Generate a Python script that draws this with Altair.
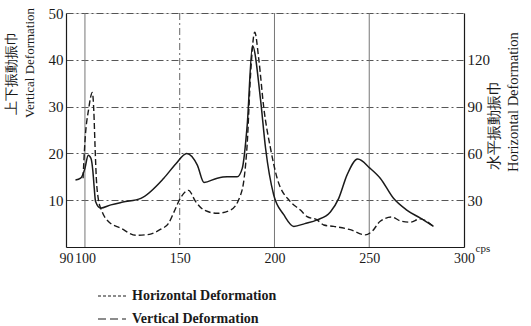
import altair as alt
import pandas as pd

# Vertical deformation (dashed, left axis)
vert_cps = [99, 100, 102, 103.9, 104.7, 105.3, 106, 107, 109, 112, 119, 127, 134, 140, 144,
            147, 150.3, 154.6, 158.4, 162.8, 169.8, 176.8, 182, 184, 185.6, 187.4, 189.6,
            191.7, 194.4, 197.9, 201.4, 208.4, 213.7, 217.2, 222.5, 226, 231.2, 240, 247.9,
            251.4, 255.8, 261.9, 266.3, 271.6, 276.8, 283.5]
vert_val = [14.7, 22.5, 29.6, 33.0, 28.9, 21.8, 14.7, 10.4, 7.6, 5.6, 4.0, 2.5, 2.7, 3.8, 5.0,
            7.5, 10.4, 12.1, 9.7, 7.9, 7.2, 7.9, 11.0, 14.7, 22.0, 37.0, 45.9,
            40.2, 29.6, 21.1, 14.7, 9.7, 7.9, 6.5, 5.8, 4.7, 4.4, 3.7, 2.6,
            3.3, 5.5, 6.4, 5.6, 5.3, 6.0, 4.5]

# Horizontal deformation (solid, right axis)
horiz_cps = [95, 97.7, 100, 101.7, 103.2, 104.2, 104.9, 105.6, 108.2, 113.7, 120, 129.5, 141.6,
             148, 153.7, 159.3, 162.8, 169.8, 175, 180.3, 183, 185.6, 188.4, 192.6, 195.3,
             199.6, 204.9, 210.2, 216, 222.5, 229.5, 233.9, 238.3, 243.9, 250.5, 255.8, 262.8,
             269.8, 276.8, 283.9]
horiz_val = [42.9, 44.1, 50.4, 58.8, 56.7, 48.3, 37.8, 29.1, 24.9, 27.0, 28.8, 31.2, 44.1,
             53.4, 60.0, 52.5, 41.4, 44.1, 45.0, 45.0, 50.4, 78.0, 129.0, 95.0, 63.3,
             33.3, 20.7, 13.2, 15.0, 17.4, 22.5, 31.2, 46.2, 56.4, 50.4, 44.1, 31.2,
             23.7, 18.6, 13.2]

x_ticks = [90, 100, 150, 200, 250, 300]
x_grid_solid = [100, 200, 250]
x_grid_dashdot = [150]
left_ticks = [10, 20, 30, 40, 50]
right_ticks = [30, 60, 90, 120]
legend_labels = ["Horizontal Deformation", "Vertical Deformation"]
left_title = ["上下振動振巾", "Vertical Deformation"]
right_title = ["水平振動振巾", "Horizontal Deformation"]

vdf = pd.DataFrame({"cps": vert_cps, "v": vert_val})
hdf = pd.DataFrame({"cps": horiz_cps, "h": horiz_val})

W, H = 398, 234
LABEL_FONT = "Liberation Sans Narrow"
TITLE_FONT = "Liberation Serif"
INK = "#1a1a1a"

xscale = alt.Scale(domain=[90, 300], nice=False, zero=False)
xaxis = alt.Axis(values=x_ticks, grid=False, tickSize=0, labelFont=LABEL_FONT, labelFontSize=14,
                 labelColor=INK, labelPadding=4, labelOverlap=False, labelFlush=False,
                 domainColor=INK, domainWidth=1.2,
                 title="cps", titleFont=TITLE_FONT, titleFontSize=11, titleFontWeight="normal",
                 titleColor=INK, titleX=409, titleY=-5, titleAlign="left", titleBaseline="top")

vgrid1 = alt.Chart(pd.DataFrame({"cps": x_grid_solid})).mark_rule(
    color="#777", strokeWidth=1.0).encode(x=alt.X("cps:Q", scale=xscale, axis=xaxis))
vgrid2 = alt.Chart(pd.DataFrame({"cps": x_grid_dashdot})).mark_rule(
    color="#555", strokeWidth=0.9, strokeDash=[7, 3, 2, 3]).encode(
    x=alt.X("cps:Q", scale=xscale, axis=xaxis))

vline = alt.Chart(vdf).mark_line(color=INK, strokeWidth=1.4, strokeDash=[6, 3],
                                 interpolate="monotone").encode(
    x=alt.X("cps:Q", scale=xscale, axis=xaxis),
    y=alt.Y("v:Q", scale=alt.Scale(domain=[0, 50], nice=False),
            axis=alt.Axis(values=left_ticks, orient="left", grid=True, gridDash=[7, 3, 2, 3],
                          gridColor="#444", gridWidth=0.9, tickSize=0,
                          labelFont=LABEL_FONT, labelFontSize=15, labelColor=INK, labelPadding=3,
                          domainColor=INK, domainWidth=1.2, title=None)),
)

hline = alt.Chart(hdf).mark_line(color=INK, strokeWidth=1.5, interpolate="monotone").encode(
    x=alt.X("cps:Q", scale=xscale, axis=xaxis),
    y=alt.Y("h:Q", scale=alt.Scale(domain=[0, 150], nice=False),
            axis=alt.Axis(values=right_ticks, orient="right", grid=False, tickSize=0,
                          labelFont=LABEL_FONT, labelFontSize=15, labelColor=INK, labelPadding=3,
                          domainColor=INK, domainWidth=1.2, title=None)),
)


def vtext(label, x, y, size):
    return alt.Chart(pd.DataFrame({"t": [label]})).mark_text(
        angle=270, align="left", baseline="middle", font=TITLE_FONT, fontSize=size,
        color=INK).encode(x=alt.value(x), y=alt.value(y), text="t:N")


titles = [
    vtext(left_title[0], -54, 102, 14),
    vtext(left_title[1], -36, 105, 13),
    vtext(right_title[0], 429, 157, 14.5),
    vtext(right_title[1], 448, 159, 14.5),
]

leg_h_line = alt.Chart(pd.DataFrame({"l": [legend_labels[0]]})).mark_rule(
    color=INK, strokeWidth=1.2, strokeDash=[3, 2]).encode(
    x=alt.value(32), x2=alt.value(60), y=alt.value(283))
leg_h_text = alt.Chart(pd.DataFrame({"l": [legend_labels[0]]})).mark_text(
    align="left", baseline="middle", font=TITLE_FONT, fontSize=14, fontWeight="bold", color=INK).encode(
    x=alt.value(66), y=alt.value(283), text="l:N")
leg_v_line = alt.Chart(pd.DataFrame({"l": [legend_labels[1]]})).mark_rule(
    color=INK, strokeWidth=1.2, strokeDash=[8, 4]).encode(
    x=alt.value(32), x2=alt.value(60), y=alt.value(306))
leg_v_text = alt.Chart(pd.DataFrame({"l": [legend_labels[1]]})).mark_text(
    align="left", baseline="middle", font=TITLE_FONT, fontSize=14, fontWeight="bold", color=INK).encode(
    x=alt.value(66), y=alt.value(306), text="l:N")

chart = alt.layer(vgrid1, vgrid2, vline, hline, *titles,
                  leg_h_line, leg_h_text, leg_v_line, leg_v_text).resolve_scale(
    y="independent"
).properties(
    width=W, height=H,
    autosize=alt.AutoSizeParams(type="none"),
    padding={"left": 66, "top": 13, "right": 67, "bottom": 79},
).configure_view(stroke=INK, strokeWidth=1.2).configure(background="white")

chart.save("out.html", embed_options={"renderer": "svg", "actions": False})
